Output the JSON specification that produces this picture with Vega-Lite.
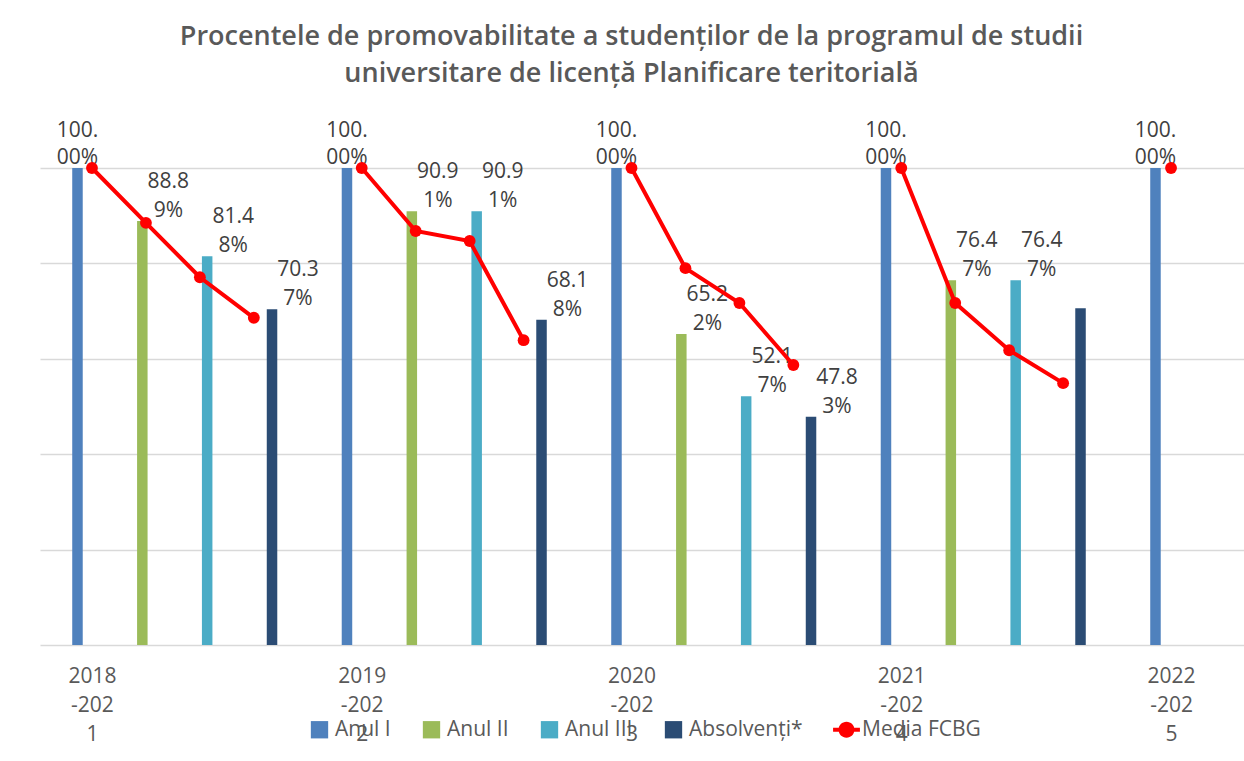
{
  "$schema": "https://vega.github.io/schema/vega-lite/v6.json",
  "width": 1133,
  "height": 477,
  "autosize": "none",
  "padding": {"left": 65, "top": 168, "right": 46, "bottom": 116},
  "background": "white",
  "title": {
    "text": ["Procentele de promovabilitate a studenților de la programul de studii", "universitare de licență Planificare teritorială"],
    "font": "Open Sans", "fontSize": 27, "fontWeight": 600, "color": "#595959",
    "lineHeight": 37, "anchor": "middle", "offset": 32
  },
  "config": {"font": "Open Sans", "view": {"stroke": null}},
  "data": {"values": [
    {"cohort": "2018-2021", "series": "Anul I", "value": 100, "media": 100},
    {"cohort": "2018-2021", "series": "Anul II", "value": 88.89, "media": 88.5},
    {"cohort": "2018-2021", "series": "Anul III", "value": 81.48, "media": 77.1},
    {"cohort": "2018-2021", "series": "Absolvenți*", "value": 70.37, "media": 68.6},
    {"cohort": "2019-2022", "series": "Anul I", "value": 100, "media": 100},
    {"cohort": "2019-2022", "series": "Anul II", "value": 90.91, "media": 86.8},
    {"cohort": "2019-2022", "series": "Anul III", "value": 90.91, "media": 84.7},
    {"cohort": "2019-2022", "series": "Absolvenți*", "value": 68.18, "media": 63.9},
    {"cohort": "2020-2023", "series": "Anul I", "value": 100, "media": 100},
    {"cohort": "2020-2023", "series": "Anul II", "value": 65.22, "media": 79.0},
    {"cohort": "2020-2023", "series": "Anul III", "value": 52.17, "media": 71.7},
    {"cohort": "2020-2023", "series": "Absolvenți*", "value": 47.83, "media": 58.7},
    {"cohort": "2021-2024", "series": "Anul I", "value": 100, "media": 100},
    {"cohort": "2021-2024", "series": "Anul II", "value": 76.47, "media": 71.7},
    {"cohort": "2021-2024", "series": "Anul III", "value": 76.47, "media": 61.8},
    {"cohort": "2021-2024", "series": "Absolvenți*", "value": 70.59, "media": 54.9},
    {"cohort": "2022-2025", "series": "Anul I", "value": 100, "media": 100}
  ]},
  "resolve": {"scale": {"x": "independent"}, "axis": {"x": "independent"}},
  "layer": [
    {
      "encoding": {
        "x": {"field": "cohort", "type": "nominal",
          "scale": {"domain": ["2018-2021", "2019-2022", "2020-2023", "2021-2024", "2022-2025"], "range": [-25, 1322.5], "paddingInner": 0, "paddingOuter": 0},
          "axis": null},
        "xOffset": {"field": "series", "type": "nominal",
          "scale": {"domain": ["Anul I", "Anul II", "Anul III", "Absolvenți*"], "paddingInner": 0.838, "paddingOuter": 0.497}},
        "y": {"field": "value", "type": "quantitative", "scale": {"domain": [0, 100]},
          "axis": {"values": [0, 20, 40, 60, 80, 100], "labels": false, "ticks": false, "domain": false, "title": null, "gridColor": "#D9D9D9", "gridWidth": 1.3}}
      },
      "layer": [
        {
          "mark": {"type": "bar"},
          "encoding": {
            "color": {"field": "series", "type": "nominal",
              "scale": {"domain": ["Anul I", "Anul II", "Anul III", "Absolvenți*", "Media FCBG"], "range": ["#4F81BD", "#9BBB59", "#4BACC6", "#2B4C74", "#FF0000"]},
              "legend": {
                "orient": "none", "legendX": 244, "legendY": 551, "direction": "horizontal",
                "title": null, "symbolType": "square", "symbolSize": 300, "symbolStrokeWidth": 0,
                "labelFont": "Open Sans", "labelFontSize": 21, "labelColor": "#595959",
                "columnPadding": 30, "labelOffset": 5, "padding": 0,
                "encode": {"symbols": {"update": {"shape": {"signal": "datum.value === 'Media FCBG' ? 'M-1.55,-0.24H1.55V0.24H-1.55Z M0.92,0A0.92,0.92 0 1,1 -0.92,0A0.92,0.92 0 1,1 0.92,0Z' : 'square'"}}}}
              }}
          }
        },
        {
          "transform": [
            {"filter": "datum.series === 'Anul I'"},
            {"calculate": "slice(format(datum.value/100, '.2%'), 0, 4) + '|' + slice(format(datum.value/100, '.2%'), 4)", "as": "lbl"}
          ],
          "mark": {"type": "text", "lineBreak": "|", "lineHeight": 27, "baseline": "bottom", "align": "center", "dy": -27, "font": "Open Sans", "fontSize": 21, "color": "#404040"},
          "encoding": {"text": {"field": "lbl"}}
        },
        {
          "transform": [
            {"filter": "datum.series !== 'Anul I' && !(datum.cohort === '2021-2024' && datum.series === 'Absolvenți*')"},
            {"calculate": "slice(format(datum.value/100, '.2%'), 0, 4) + '|' + slice(format(datum.value/100, '.2%'), 4)", "as": "lbl"}
          ],
          "mark": {"type": "text", "lineBreak": "|", "lineHeight": 29, "baseline": "bottom", "align": "center", "dx": 26, "dy": -29, "font": "Open Sans", "fontSize": 21, "color": "#404040"},
          "encoding": {"text": {"field": "lbl"}}
        }
      ]
    },
    {
      "transform": [{"calculate": "datum.cohort + '#' + datum.series", "as": "pos"}],
      "encoding": {
        "x": {"field": "pos", "type": "nominal",
          "scale": {"type": "point", "padding": 0.5, "domain": [
            "2018-2021#Anul I", "2018-2021#Anul II", "2018-2021#Anul III", "2018-2021#Absolvenți*", "g1",
            "2019-2022#Anul I", "2019-2022#Anul II", "2019-2022#Anul III", "2019-2022#Absolvenți*", "g2",
            "2020-2023#Anul I", "2020-2023#Anul II", "2020-2023#Anul III", "2020-2023#Absolvenți*", "g3",
            "2021-2024#Anul I", "2021-2024#Anul II", "2021-2024#Anul III", "2021-2024#Absolvenți*", "g4",
            "2022-2025#Anul I"]},
          "axis": {
            "labelExpr": "slice(datum.label, -7) == '#Anul I' ? [slice(datum.label, 0, 4), slice(datum.label, 4, 8), slice(datum.label, 8, 9)] : ''",
            "title": null, "ticks": false, "domain": false, "grid": false, "labelAngle": 0,
            "labelFont": "Open Sans", "labelFontSize": 21, "labelColor": "#595959", "labelLineHeight": 29,
            "labelPadding": 20, "labelOverlap": false, "labelBound": false, "labelFlush": false
          }},
        "y": {"field": "media", "type": "quantitative",
          "axis": {"values": [0, 20, 40, 60, 80, 100], "labels": false, "ticks": false, "domain": false, "title": null, "gridColor": "#D9D9D9", "gridWidth": 1.3}},
        "detail": {"field": "cohort"}
      },
      "layer": [
        {"mark": {"type": "line", "color": "#FF0000", "strokeWidth": 4}},
        {"mark": {"type": "point", "shape": "circle", "filled": true, "opacity": 1, "color": "#FF0000", "size": 140}}
      ]
    }
  ]
}
